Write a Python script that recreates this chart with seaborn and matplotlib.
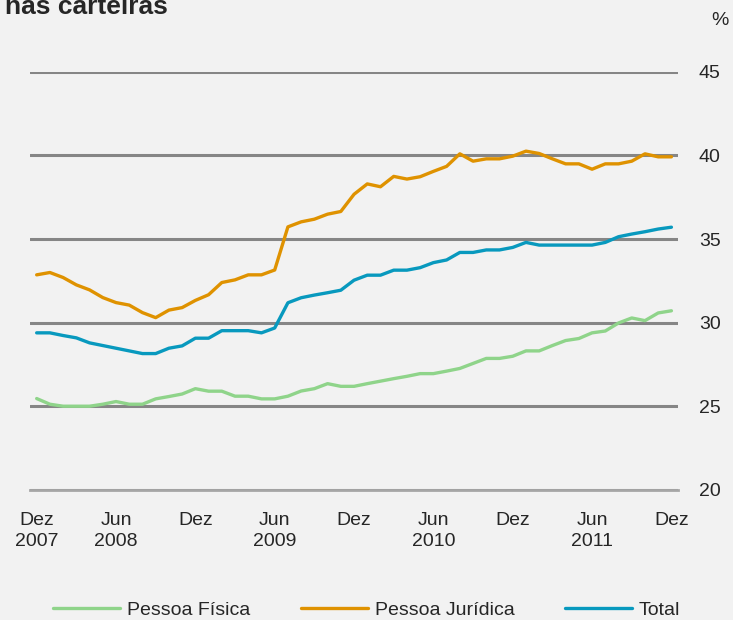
import numpy as np
import pandas as pd
import seaborn as sns
import matplotlib
matplotlib.use("Agg")
import matplotlib.pyplot as plt

# dados mensais dez/2007 - dez/2011 (%)
pessoa_fisica = [25.46, 25.12, 25.0, 25.0, 25.0, 25.12, 25.28, 25.12, 25.12, 25.44,
                 25.58, 25.73, 26.05, 25.9, 25.9, 25.6, 25.6, 25.44, 25.44, 25.6,
                 25.91, 26.05, 26.35, 26.19, 26.19, 26.35, 26.5, 26.65, 26.79, 26.95,
                 26.95, 27.1, 27.26, 27.56, 27.86, 27.86, 27.99, 28.31, 28.31, 28.63,
                 28.93, 29.05, 29.39, 29.5, 29.98, 30.28, 30.12, 30.58, 30.71]
pessoa_juridica = [32.86, 33.0, 32.7, 32.26, 31.96, 31.5, 31.2, 31.05, 30.6, 30.3,
                   30.75, 30.9, 31.33, 31.67, 32.4, 32.56, 32.86, 32.86, 33.15, 35.73,
                   36.03, 36.19, 36.49, 36.65, 37.68, 38.3, 38.13, 38.75, 38.59, 38.73,
                   39.05, 39.35, 40.1, 39.66, 39.8, 39.8, 39.96, 40.26, 40.12, 39.8,
                   39.5, 39.5, 39.18, 39.5, 39.5, 39.66, 40.1, 39.92, 39.92]
total = [29.39, 29.39, 29.23, 29.09, 28.79, 28.63, 28.47, 28.31, 28.15, 28.15,
         28.47, 28.61, 29.07, 29.07, 29.52, 29.52, 29.52, 29.39, 29.68, 31.19,
         31.49, 31.65, 31.79, 31.94, 32.54, 32.84, 32.84, 33.14, 33.14, 33.29,
         33.59, 33.75, 34.2, 34.2, 34.35, 34.35, 34.5, 34.8, 34.64, 34.64,
         34.64, 34.64, 34.64, 34.8, 35.14, 35.3, 35.44, 35.6, 35.71]
tick_labels = ["Dez\n2007", "Jun\n2008", "Dez", "Jun\n2009", "Dez",
               "Jun\n2010", "Dez", "Jun\n2011", "Dez"]
series_names = ["Pessoa Física", "Pessoa Jurídica", "Total"]
cores = ["#8fd48a", "#df9200", "#0899be"]

mes = np.arange(len(total)) + 0.5  # ponto no meio de cada mês
df = pd.DataFrame({
    "mes": np.tile(mes, 3),
    "valor": pessoa_fisica + pessoa_juridica + total,
    "serie": np.repeat(series_names, len(total)),
})

sns.set_style("white")
plt.rcParams["font.family"] = ["Liberation Sans", "DejaVu Sans"]
bg = "#f2f2f2"

fig = plt.figure(figsize=(7.33, 6.2), dpi=100, facecolor=bg)
ax = fig.add_axes([0.041, 0.21, 0.884, 0.674], facecolor=bg)

sns.lineplot(data=df, x="mes", y="valor", hue="serie", palette=cores,
             hue_order=series_names, linewidth=2.4, ax=ax, legend=False)

ax.set_xlim(0, 49)
ax.set_ylim(20, 45)
# rótulos no centro do mês, marcas nas divisas
ax.set_xticks(mes[::6])
ax.set_xticklabels(tick_labels, fontsize=14, linespacing=1.28)
ax.set_xticks(np.arange(0, 49, 6), minor=True)
ax.tick_params(axis="x", which="major", length=0, pad=16)
ax.tick_params(axis="x", which="minor", direction="out", length=6, width=1.5, color="#a6a6a6")
ax.set_yticks([20, 25, 30, 35, 40, 45])
ax.yaxis.tick_right()
ax.tick_params(axis="y", length=0, pad=15, labelsize=14)
ax.set_xlabel("")
ax.set_ylabel("")
ax.yaxis.grid(True, color="#868686", linewidth=2.2)
ax.set_axisbelow(True)
for s in ["top", "right", "left"]:
    ax.spines[s].set_visible(False)
ax.spines["bottom"].set_color("#a6a6a6")
ax.spines["bottom"].set_linewidth(2)

fig.text(0.007, 0.977, "nas carteiras", fontsize=19, fontweight="bold", va="baseline")
fig.text(0.994, 0.967, "%", fontsize=14, ha="right", va="center")

handles = [plt.Line2D([], [], color=c, linewidth=2.4) for c in cores]
fig.legend(handles, series_names, loc="center", bbox_to_anchor=(0.5, 0.016),
           ncol=3, frameon=False, fontsize=14, handlelength=3.45,
           columnspacing=2.6, handletextpad=0.36, borderpad=0, borderaxespad=0)

fig.savefig("out.png", dpi=100, facecolor=bg)
